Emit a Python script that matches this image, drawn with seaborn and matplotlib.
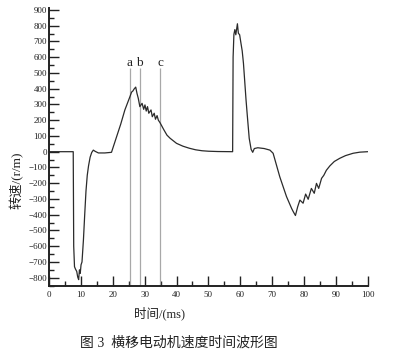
import numpy as np
import pandas as pd
import matplotlib
matplotlib.use("Agg")
import matplotlib.pyplot as plt
from matplotlib.ticker import MultipleLocator
import seaborn as sns

# ---- data ----
time_ms = [0, 7.6, 7.75, 8.0, 8.3, 8.7, 9.0, 9.3, 9.55, 9.8, 10.05, 10.35, 10.8, 11.2,
           11.6, 12.0, 12.4, 12.9, 13.4, 13.9, 14.5, 15.5, 17.5, 19.6, 22.5, 23.8,
           25.4, 25.9, 26.3, 26.7, 27.2, 27.6, 28.0, 28.5, 29.2, 29.7, 30.1, 30.5,
           30.9, 31.3, 32.0, 32.4, 33.0, 33.4, 33.9, 34.3, 34.8, 36.0, 37.0, 38.0,
           40.0, 42.0, 44.0, 46.0, 48.0, 50.0, 53.0, 57.6, 57.75, 58.0, 58.3, 58.6,
           59.1, 59.4, 59.8, 60.2, 60.6, 61.0, 61.4, 61.8, 62.2, 62.8, 63.4, 63.9,
           64.4, 65.5, 67.5, 69.3, 70.3, 72.4, 74.5, 76.1, 76.6, 77.3, 78.0, 78.7,
           79.7, 80.5, 81.3, 82.3, 83.2, 83.9, 84.6, 85.5, 86.2, 87.0, 88.1, 89.5,
           91.2, 93.0, 95.4, 97.5, 100.0]
speed_rpm = [0, 0, -600, -730, -745, -760, -795, -812, -750, -772, -718, -700, -560, -400,
             -250, -150, -90, -35, -5, 10, 2, -8, -8, -4, 175, 265,
             350, 378, 385, 398, 410, 370, 339, 286, 307, 269, 297, 258,
             286, 244, 265, 222, 244, 206, 229, 200, 185, 140, 105, 85,
             53, 35, 22, 12, 6, 3, 1, 0, 600, 745, 775, 742,
             812, 752, 742, 690, 640, 560, 445, 330, 230, 85, 15, -4,
             20, 25, 20, 10, -10, -160, -285, -360, -380, -405, -350, -307,
             -327, -269, -302, -233, -264, -201, -233, -169, -150, -118, -90, -62,
             -42, -25, -10, -3, 0]
marker_labels = ["a", "b", "c"]
marker_times = [25.4, 28.4, 34.9]

x_ticks = list(range(0, 101, 10))
y_ticks = list(range(-800, 901, 100))

df = pd.DataFrame({"t": time_ms, "v": speed_rpm})

sns.set_style("ticks")
plt.rcParams['font.family'] = ['Liberation Serif', 'Noto Sans CJK SC', 'DejaVu Sans']

fig = plt.figure(figsize=(4.0, 3.51), dpi=100)
ax = fig.add_axes([0.1225, 0.1863, 0.797, 0.790])

sns.lineplot(data=df, x="t", y="v", color="#2b2b2b", linewidth=0.9,
             estimator=None, sort=False, ax=ax)

for lab, mt in zip(marker_labels, marker_times):
    ax.vlines(mt, -850, 530, color="#a8a8a8", linewidth=0.9, zorder=1)
    ax.text(mt, 563, lab, ha="center", va="center", fontsize=9.5,
            family="Liberation Serif", color="#222222")

ax.set_xlim(0, 100)
ax.set_ylim(-850, 910)
ax.set_xticks(x_ticks)
ax.set_yticks(y_ticks)
ax.xaxis.set_minor_locator(MultipleLocator(5))
ax.yaxis.set_minor_locator(MultipleLocator(50))
ax.tick_params(axis="both", which="major", direction="in", length=7, width=1.0,
               labelsize=6.5, color="#222222", labelcolor="#222222")
ax.tick_params(axis="both", which="minor", direction="in", length=3.6, width=1.0,
               color="#222222")
ax.tick_params(axis="x", which="major", pad=4)
ax.tick_params(axis="y", which="major", pad=1.5)

for s in ["top", "right"]:
    ax.spines[s].set_visible(False)
for s in ["left", "bottom"]:
    ax.spines[s].set_linewidth(1.4)
    ax.spines[s].set_color("#222222")

cjk = ['Liberation Serif', 'Noto Sans CJK SC']
ax.set_xlabel("时间/(ms)", fontsize=9, color="#222222", family=cjk)
ax.xaxis.set_label_coords(0.348, -0.076)
ax.set_ylabel("转速/(r/m)", fontsize=9.5, color="#222222", family=cjk)
ax.yaxis.set_label_coords(-0.078, 0.38)

fig.text(0.448, 1 - 343.3 / 351, "图 3  横移电动机速度时间波形图", ha="center", va="center",
         fontsize=10, color="#222222", family=cjk)

fig.savefig("out.png", dpi=100)
